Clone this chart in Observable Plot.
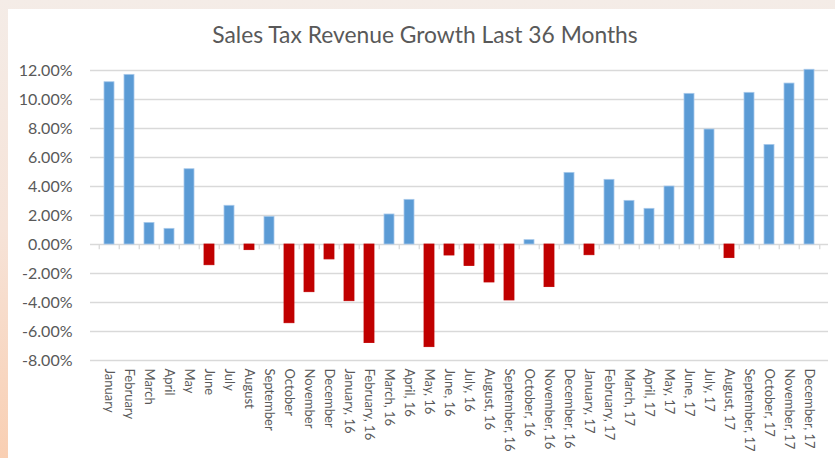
<!DOCTYPE html>
<html>
<head>
<meta charset="utf-8">
<script src="https://cdn.jsdelivr.net/npm/d3@7"></script>
<script src="https://cdn.jsdelivr.net/npm/@observablehq/plot@0.6"></script>
<style>
  html, body { margin: 0; padding: 0; }
  body {
    width: 835px; height: 458px; overflow: hidden; position: relative;
    background: linear-gradient(to bottom, #f4ece7 0%, #f6e3d8 50%, #f9cfb3 100%);
    font-family: Lato, "Open Sans", sans-serif;
  }
  #panel {
    position: absolute; left: 8px; top: 9px; width: 827px; height: 449px;
    background: #ffffff;
  }
  #title {
    position: absolute; left: 0; top: 20px; width: 850px; text-align: center;
    font-family: Lato, sans-serif; font-size: 22.8px; color: #595959; white-space: nowrap;
  }
  #chart { position: absolute; left: 0; top: 0; }
</style>
</head>
<body>
<div id="panel"></div>
<div id="title">Sales Tax Revenue Growth Last 36 Months</div>
<div id="chart"></div>
<script>
const months = [
  "January","February","March","April","May","June","July","August","September",
  "October","November","December",
  "January, 16","February, 16","March, 16","April, 16","May, 16","June, 16","July, 16",
  "August, 16","September, 16","October, 16","November, 16","December, 16",
  "January, 17","February, 17","March, 17","April, 17","May, 17","June, 17","July, 17",
  "August, 17","September, 17","October, 17","November, 17","December, 17"
];
const growth = [
  11.19, 11.70, 1.49, 1.08, 5.19, -1.43, 2.67, -0.39, 1.91,
  -5.43, -3.29, -1.03,
  -3.91, -6.80, 2.07, 3.08, -7.08, -0.76, -1.48,
  -2.62, -3.86, 0.30, -2.94, 4.94,
  -0.74, 4.46, 3.01, 2.46, 4.00, 10.39, 7.93,
  -0.94, 10.46, 6.87, 11.10, 12.05
];
const yTicks = [12, 10, 8, 6, 4, 2, 0, -2, -4, -6, -8];
const posColor = "#5b9bd5";
const negColor = "#c00000";

const data = months.map((m, i) => ({month: m, value: growth[i]}));
const step = 738 / months.length;

const chart = Plot.plot({
  width: 835,
  height: 458,
  marginLeft: 90,
  marginRight: 7,
  marginTop: 70,
  marginBottom: 98,
  style: {background: "transparent", fontFamily: "Lato, sans-serif", color: "#595959"},
  x: {domain: months, paddingInner: 0.49, paddingOuter: 0.245, label: null},
  y: {domain: [-8, 12], label: null},
  marks: [
    Plot.ruleY(yTicks, {stroke: "#d9d9d9", strokeWidth: 1.3}),
    Plot.ruleX(data, {x: "month", y1: 0, y2: -0.36, dx: -step / 2, stroke: "#d9d9d9", strokeWidth: 1.3}),
    Plot.ruleX(data.slice(-1), {x: "month", y1: 0, y2: -0.36, dx: step / 2, stroke: "#d9d9d9", strokeWidth: 1.3}),
    Plot.barY(data, {
      x: "month", y: "value",
      fill: d => d.value >= 0 ? posColor : negColor,
      stroke: d => d.value >= 0 ? "#a8c9ea" : negColor,
      strokeWidth: 0.8
    }),
    Plot.axisY({ticks: yTicks, tickSize: 0, tickPadding: 18, tickFormat: d => d.toFixed(2) + "%", fontSize: 16, fill: "#595959"}),
    Plot.axisX({tickSize: 0, tickPadding: 8, tickRotate: 90, fontSize: 13, fill: "#595959"})
  ]
});
document.getElementById("chart").appendChild(chart);
</script>
</body>
</html>
